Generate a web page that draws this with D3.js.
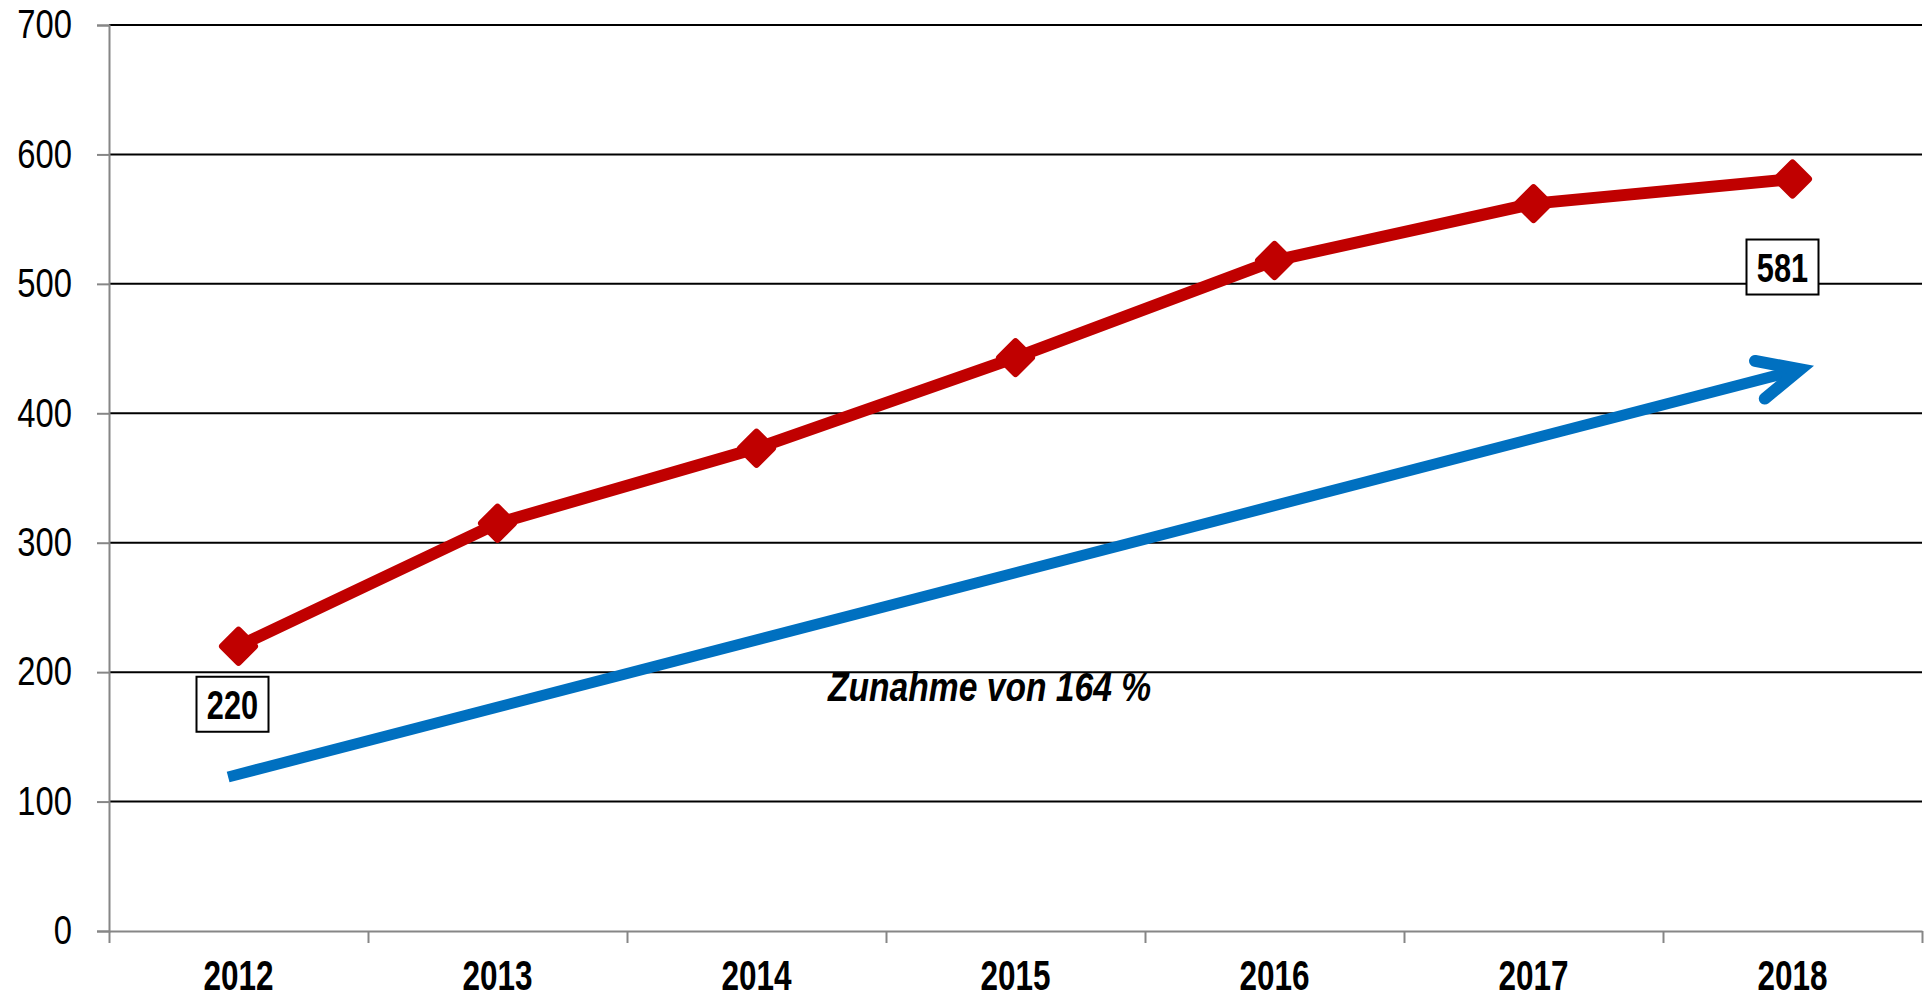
<!DOCTYPE html>
<html lang="de">
<head>
  <meta charset="UTF-8">
  <title>Zunahme 2012-2018</title>
  <script src="https://d3js.org/d3.v7.min.js"></script>
  <style>
    html, body { margin: 0; padding: 0; background: #fff; }
    svg { display: block; }
    text { font-family: "Liberation Sans Narrow", "Arial Narrow", "Liberation Sans", Arial, sans-serif; }
    .y-axis text { font-size: 40px; fill: #000; }
    .x-axis text { font-size: 42px; font-weight: bold; fill: #000; }
    .grid line { stroke: #000; stroke-width: 2px; }
  </style>
</head>
<body>
  <div id="container"></div>
  <script>
    // data
    const years = ["2012", "2013", "2014", "2015", "2016", "2017", "2018"];
    const values = [220, 315, 373, 443, 518, 562, 581];
    const yTicks = [0, 100, 200, 300, 400, 500, 600, 700];
    const labeled = ["2012", "2018"];
    const note = "Zunahme von 164 %";
    // trend arrow, in [category position, value]
    const arrowStart = [-0.04, 119];
    const arrowEnd = [6.03, 434];

    const width = 1924, height = 999;
    const margin = {top: 25, left: 109, right: 2, bottom: 68};
    const innerW = width - margin.left - margin.right;
    const innerH = height - margin.top - margin.bottom;

    const svg = d3.select('#container').append('svg')
      .attr('width', width).attr('height', height)
      .append('g')
      .attr('transform', `translate(${margin.left},${margin.top})`);

    const x = d3.scaleBand().domain(years).range([0, innerW]).padding(0);
    const xPos = d3.scaleLinear().domain([0, years.length]).range([0, innerW]);
    const y = d3.scaleLinear().domain([0, 700]).range([innerH, 0]);
    const cx = d => x(d) + x.bandwidth() / 2;

    // no narrow font installed, so condense by hand
    function narrow(sel, px, k) {
      sel.attr('x', px / k).attr('transform', `scale(${k},1)`);
    }

    // gridlines
    svg.append('g').attr('class', 'grid')
      .selectAll('line').data(yTicks.slice(1)).join('line')
      .attr('x1', 0).attr('x2', innerW)
      .attr('y1', d => y(d)).attr('y2', d => y(d));

    // y axis
    const yAxis = d3.axisLeft(y).tickValues(yTicks).tickSize(12);
    const gy = svg.append('g').attr('class', 'y-axis').call(yAxis);
    gy.selectAll('line, path').attr('stroke', '#868686').attr('stroke-width', 2);
    narrow(gy.selectAll('text'), -37, 0.82);

    // x axis: boundary ticks + centered labels
    const gxTicks = svg.append('g').attr('transform', `translate(0,${innerH})`)
      .call(d3.axisBottom(xPos).ticks(years.length).tickSize(12).tickFormat('').tickSizeOuter(0));
    gxTicks.selectAll('line, path').attr('stroke', '#868686').attr('stroke-width', 2);

    const gx = svg.append('g').attr('class', 'x-axis').attr('transform', `translate(0,${innerH})`)
      .call(d3.axisBottom(x).tickSize(0).tickPadding(29));
    gx.select('.domain').remove();
    narrow(gx.selectAll('text'), 0, 0.75);

    // trend arrow
    const ax1 = xPos(arrowStart[0] + 0.5), ay1 = y(arrowStart[1]);
    const ax2 = xPos(arrowEnd[0] + 0.5), ay2 = y(arrowEnd[1]);
    const ang = Math.atan2(ay2 - ay1, ax2 - ax1);
    const headLen = 46, headAng = 25 * Math.PI / 180;
    svg.append('line')
      .attr('x1', ax1).attr('y1', ay1).attr('x2', ax2 - 4 * Math.cos(ang)).attr('y2', ay2 - 4 * Math.sin(ang))
      .attr('stroke', '#0070C0').attr('stroke-width', 11);
    svg.append('path')
      .attr('d', d3.line()([
        [ax2 - headLen * Math.cos(ang - headAng), ay2 - headLen * Math.sin(ang - headAng)],
        [ax2, ay2],
        [ax2 - headLen * Math.cos(ang + headAng), ay2 - headLen * Math.sin(ang + headAng)]
      ]))
      .attr('fill', 'none').attr('stroke', '#0070C0').attr('stroke-width', 12)
      .attr('stroke-linecap', 'round').attr('stroke-linejoin', 'miter');

    // series line
    const line = d3.line().x((d, i) => cx(years[i])).y(d => y(d));
    svg.append('path').datum(values)
      .attr('d', line)
      .attr('fill', 'none').attr('stroke', '#C00000').attr('stroke-width', 12)
      .attr('stroke-linejoin', 'round');

    // diamond markers
    const s = 16;
    svg.selectAll('.marker').data(values).join('path')
      .attr('class', 'marker')
      .attr('transform', (d, i) => `translate(${cx(years[i])},${y(d)})`)
      .attr('d', `M0,${-s}L${s},0L0,${s}L${-s},0Z`)
      .attr('fill', '#C00000').attr('stroke', '#C00000').attr('stroke-width', 7)
      .attr('stroke-linejoin', 'round');

    // value labels in boxes
    const labelOffset = {"2012": [-6, 58], "2018": [-10, 88]};
    labeled.forEach(yr => {
      const i = years.indexOf(yr);
      const [dx, dy] = labelOffset[yr];
      const lx = cx(yr) + dx, ly = y(values[i]) + dy;
      svg.append('rect')
        .attr('x', lx - 36).attr('y', ly - 27.5).attr('width', 72).attr('height', 55)
        .attr('fill', '#fff').attr('stroke', '#000').attr('stroke-width', 2);
      svg.append('text')
        .attr('y', ly + 15)
        .attr('text-anchor', 'middle')
        .style('font-size', '41px').style('font-weight', 'bold')
        .text(values[i])
        .call(narrow, lx, 0.75);
    });

    // annotation
    svg.append('text')
      .attr('y', y(178))
      .attr('text-anchor', 'middle')
      .style('font-size', '41px').style('font-weight', 'bold').style('font-style', 'italic')
      .text(note)
      .call(narrow, xPos(3.4), 0.82);
  </script>
</body>
</html>
